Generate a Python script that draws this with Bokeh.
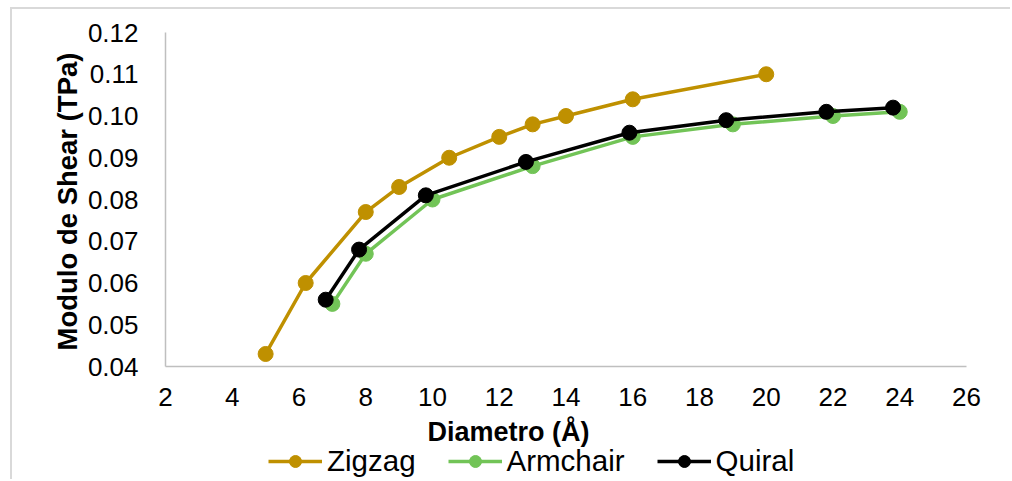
import math
from bokeh.plotting import figure
from bokeh.models import Legend, LegendItem, NumeralTickFormatter, SingleIntervalTicker, Range1d, Label
from bokeh.embed import file_html
from bokeh.resources import INLINE

# Data
zig_x = [5, 6.2, 8, 9, 10.5, 12, 13, 14, 16, 20]
zig_y = [0.043, 0.060, 0.077, 0.083, 0.090, 0.095, 0.098, 0.100, 0.104, 0.110]
arm_x = [7, 8, 10, 13, 16, 19, 22, 24]
arm_y = [0.055, 0.067, 0.080, 0.088, 0.095, 0.098, 0.100, 0.101]
qui_x = [6.8, 7.8, 9.8, 12.8, 15.9, 18.8, 21.8, 23.8]
qui_y = [0.056, 0.068, 0.081, 0.089, 0.096, 0.099, 0.101, 0.102]
series_names = ["Zigzag", "Armchair", "Quiral"]
colors = ["#BF9000", "#72C457", "#000000"]

X_MIN, X_MAX = 2, 26
Y_MIN, Y_MAX = 0.04, 0.12

# plot frame fills the whole canvas; axes are drawn at fixed locations inside it
W, H = 1000, 472
AX_LEFT, AX_RIGHT, AX_TOP, AX_BOTTOM = 153, 954, 23, 357   # axis box in canvas px
xs_per_px = (X_MAX - X_MIN) / (AX_RIGHT - AX_LEFT)
ys_per_px = (Y_MAX - Y_MIN) / (AX_BOTTOM - AX_TOP)
x_range = Range1d(X_MIN - AX_LEFT * xs_per_px, X_MAX + (W - AX_RIGHT) * xs_per_px)
y_range = Range1d(Y_MIN - (H - AX_BOTTOM) * ys_per_px, Y_MAX + AX_TOP * ys_per_px)

FONT = "Liberation Sans"

p = figure(width=W, height=H, x_range=x_range, y_range=y_range,
           output_backend="svg", toolbar_location=None,
           min_border_left=0, min_border_right=0,
           min_border_top=0, min_border_bottom=0)
p.styles = {"margin-left": "10px", "margin-top": "7px",
            "border-left": "2px solid #d9d9d9", "border-top": "2px solid #d9d9d9"}
p.outline_line_color = None
p.xgrid.grid_line_color = None
p.ygrid.grid_line_color = None
p.background_fill_color = "white"
p.border_fill_color = "white"

p.xaxis.ticker = SingleIntervalTicker(interval=2)
p.yaxis.ticker = SingleIntervalTicker(interval=0.01)
p.yaxis.formatter = NumeralTickFormatter(format="0.00")
p.xaxis.fixed_location = Y_MIN
p.yaxis.fixed_location = X_MIN
p.xaxis.bounds = (X_MIN, X_MAX)
p.yaxis.bounds = (Y_MIN, Y_MAX)

for ax in (p.xaxis, p.yaxis):
    ax.axis_line_color = "#bfbfbf"
    ax.axis_line_width = 1.5
    ax.major_tick_line_color = None
    ax.minor_tick_line_color = None
    ax.major_tick_out = 0
    ax.major_tick_in = 0
    ax.major_label_text_font = FONT
    ax.major_label_text_font_size = "26px"
    ax.major_label_text_color = "#000000"

p.xaxis.major_label_standoff = 17
p.yaxis.major_label_standoff = 23

xlabel = Label(x=X_MIN, y=Y_MIN, x_offset=343, y_offset=-65,
               text="Diametro (Å)", text_font=FONT, text_font_size="27px",
               text_font_style="bold", text_color="#000000",
               text_align="center", text_baseline="alphabetic")
p.add_layout(xlabel)

ylabel = Label(x=X_MIN, y=(Y_MIN + Y_MAX) / 2, x_offset=-98, y_offset=-2,
               angle=math.pi / 2,
               text="Modulo de Shear (TPa)", text_font=FONT, text_font_size="27.5px",
               text_font_style="bold", text_color="#000000",
               text_align="center", text_baseline="middle")
p.add_layout(ylabel)

items = []
for name, xs, ys, c in zip(series_names, [zig_x, arm_x, qui_x], [zig_y, arm_y, qui_y], colors):
    l = p.line(xs, ys, line_color=c, line_width=3.5)
    s = p.scatter(xs, ys, size=15, fill_color=c, line_color=c, marker="circle")
    items.append(LegendItem(label=name, renderers=[l, s]))

legend = Legend(items=items, orientation="horizontal", location=(256, 3),
                label_text_font=FONT, label_text_font_size="29.5px",
                label_text_color="#000000", glyph_width=54, glyph_height=30,
                label_standoff=5, spacing=32, padding=0, margin=0,
                border_line_color=None, background_fill_alpha=0)
p.add_layout(legend, "center")

open("out.html", "w").write(file_html(p, INLINE))
